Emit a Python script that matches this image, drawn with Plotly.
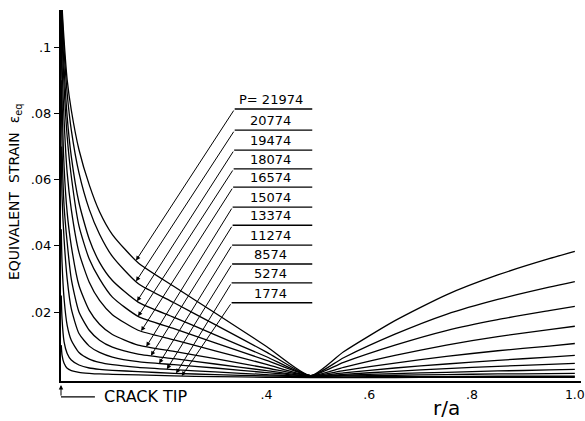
import numpy as np
import plotly.graph_objects as go

# r/a positions shared by all curves
r_a = [0.0005, 0.002, 0.006, 0.012, 0.02, 0.035, 0.055, 0.075, 0.1, 0.15,
       0.22, 0.3, 0.4, 0.486, 0.55, 0.65, 0.75, 0.85, 0.95, 1.0]

eps_21974 = [0.125, 0.1127, 0.1021, 0.0901, 0.081, 0.069, 0.0584, 0.0503, 0.0434, 0.0349,
             0.0277, 0.0197, 0.0096, 0.0008, 0.0080, 0.0174, 0.0252, 0.0312, 0.0361, 0.0383]
eps_20774 = [0.125, 0.111, 0.099, 0.086, 0.075, 0.062, 0.051, 0.0435, 0.0368, 0.0286,
             0.0228, 0.0162, 0.0079, 0.0008, 0.0062, 0.0133, 0.0193, 0.0238, 0.0275, 0.0292]
eps_19474 = [0.125, 0.108, 0.094, 0.079, 0.067, 0.053, 0.042, 0.035, 0.0295, 0.0230,
             0.0184, 0.0131, 0.0065, 0.0008, 0.0048, 0.0100, 0.0144, 0.0177, 0.0204, 0.0217]
eps_18074 = [0.122, 0.104, 0.088, 0.073, 0.061, 0.046, 0.036, 0.030, 0.0245, 0.0187,
             0.0150, 0.0107, 0.0054, 0.0008, 0.0033, 0.0069, 0.0100, 0.0126, 0.0147, 0.0157]
eps_16574 = [0.115, 0.095, 0.078, 0.062, 0.051, 0.038, 0.029, 0.0235, 0.0192, 0.0145,
             0.0116, 0.0083, 0.0042, 0.0007, 0.0023, 0.0046, 0.0066, 0.0083, 0.0097, 0.0105]
eps_15074 = [0.105, 0.085, 0.064, 0.050, 0.040, 0.028, 0.0205, 0.0163, 0.0132, 0.0100,
             0.0081, 0.0059, 0.0031, 0.0007, 0.0016, 0.0031, 0.0043, 0.0054, 0.0064, 0.0069]
eps_13374 = [0.09, 0.07, 0.052, 0.041, 0.030, 0.020, 0.0145, 0.0115, 0.0094, 0.0073,
             0.0059, 0.0043, 0.0023, 0.0006, 0.0012, 0.0021, 0.0029, 0.0036, 0.0042, 0.0045]
eps_11274 = [0.07, 0.055, 0.042, 0.030, 0.021, 0.0135, 0.0097, 0.0078, 0.0064, 0.0050,
             0.0041, 0.0031, 0.0017, 0.0006, 0.0009, 0.0014, 0.0018, 0.0022, 0.0025, 0.0027]
eps_8574 = [0.045, 0.035, 0.024, 0.016, 0.0115, 0.0078, 0.0058, 0.0048, 0.0041, 0.0033,
            0.0026, 0.0019, 0.0011, 0.0005, 0.0007, 0.0009, 0.0011, 0.0013, 0.0014, 0.0015]
eps_5274 = [0.025, 0.018, 0.011, 0.0075, 0.0055, 0.0040, 0.0031, 0.0027, 0.0024, 0.0020,
            0.0015, 0.0011, 0.0007, 0.0004, 0.0004, 0.0005, 0.0005, 0.0006, 0.0006, 0.0006]
eps_1774 = [0.01, 0.007, 0.0045, 0.003, 0.0023, 0.0018, 0.0015, 0.0013, 0.0012, 0.0010,
            0.0007, 0.0005, 0.0003, 0.0002, 0.0002, 0.0002, 0.0003, 0.0003, 0.0003, 0.0003]

series = [eps_21974, eps_20774, eps_19474, eps_18074, eps_16574, eps_15074,
          eps_13374, eps_11274, eps_8574, eps_5274, eps_1774]
p_labels = ["P= 21974", "20774", "19474", "18074", "16574", "15074",
            "13374", "11274", "8574", "5274", "1774"]
label_y = [0.0813, 0.0749, 0.0689, 0.0632, 0.0577, 0.0517, 0.0462, 0.0402, 0.0345, 0.0288, 0.0228]
arrow_x = [0.146, 0.146, 0.148, 0.150, 0.156, 0.166, 0.175, 0.191, 0.206, 0.224, 0.235]
tail_x = [0.338, 0.338, 0.337, 0.336, 0.335, 0.334, 0.334, 0.333, 0.333, 0.332, 0.332]

y_ticks = [0.02, 0.04, 0.06, 0.08, 0.1]
y_ticktext = [".02", ".04", ".06", ".08", ".1"]
x_ticks = [0.4, 0.6, 0.8, 1.0]
x_ticktext = [".4", ".6", ".8", "1.0"]

FONT = "DejaVu Sans"
fig = go.Figure()
for name, ys in zip(p_labels, series):
    fig.add_trace(go.Scatter(x=r_a, y=ys, mode="lines", name=name,
                             line=dict(color="black", width=1.3, shape="spline", smoothing=0.6),
                             showlegend=False, hoverinfo="skip"))

annotations = []
shapes = []
for i, ys in enumerate(series):
    tip_y = float(np.interp(arrow_x[i], r_a, ys))
    annotations.append(dict(x=arrow_x[i], y=tip_y, xref="x", yref="y",
                            ax=tail_x[i], ay=label_y[i], axref="x", ayref="y",
                            text="", showarrow=True, arrowhead=2, arrowsize=0.9,
                            arrowwidth=1.0, arrowcolor="black", standoff=0))
    shapes.append(dict(type="line", xref="x", yref="y", x0=tail_x[i], x1=0.489,
                       y0=label_y[i], y1=label_y[i], line=dict(color="black", width=1.3)))
    annotations.append(dict(x=0.408, y=label_y[i], xref="x", yref="y", text=p_labels[i],
                            showarrow=False, xanchor="center", yanchor="bottom", yshift=0,
                            font=dict(family=FONT, size=13, color="black")))

# crack tip marker
annotations.append(dict(x=0, y=-0.011, xref="x", yref="paper", ax=0, ay=12,
                        text="", showarrow=True, arrowhead=2, arrowsize=0.9,
                        arrowwidth=1.0, arrowcolor="black", standoff=0))
shapes.append(dict(type="line", xref="x", yref="paper", x0=0, x1=0.066,
                   y0=-0.043, y1=-0.043, line=dict(color="black", width=1.2)))
annotations.append(dict(x=0.08, y=-0.043, xref="x", yref="paper", text="CRACK TIP",
                        showarrow=False, xanchor="left", yanchor="middle",
                        font=dict(family=FONT, size=16, color="black")))
# axis titles
annotations.append(dict(x=0.742, y=-0.074, xref="paper", yref="paper", text="r/a",
                        showarrow=False, xanchor="center", yanchor="middle", borderpad=0,
                        font=dict(family=FONT, size=20, color="black")))
annotations.append(dict(x=-0.0885, y=0.512, xref="paper", yref="paper",
                        text="EQUIVALENT  STRAIN  ε<sub>eq</sub>", textangle=-90,
                        showarrow=False, xanchor="center", yanchor="middle",
                        font=dict(family=FONT, size=14, color="black")))

fig.update_layout(
    width=585, height=421,
    margin=dict(l=61, r=4, t=10, b=40),
    paper_bgcolor="white", plot_bgcolor="white",
    annotations=annotations, shapes=shapes,
    xaxis=dict(range=[0, 1.012], tickvals=x_ticks, ticktext=x_ticktext, ticks="",
               showgrid=False, zeroline=False, showline=True, linecolor="black",
               linewidth=1.5, automargin=False, ticklabelstandoff=1,
               ticklabeloverflow="allow",
               tickfont=dict(family=FONT, size=12.5, color="black")),
    yaxis=dict(range=[-0.00083, 0.1112], tickvals=y_ticks, ticktext=y_ticktext,
               ticks="outside", ticklen=5, tickcolor="black", tickwidth=1.2,
               showgrid=False, zeroline=False, showline=True, linecolor="black",
               linewidth=2, automargin=False,
               tickfont=dict(family=FONT, size=13, color="black")),
)

fig.write_html("out.html")
